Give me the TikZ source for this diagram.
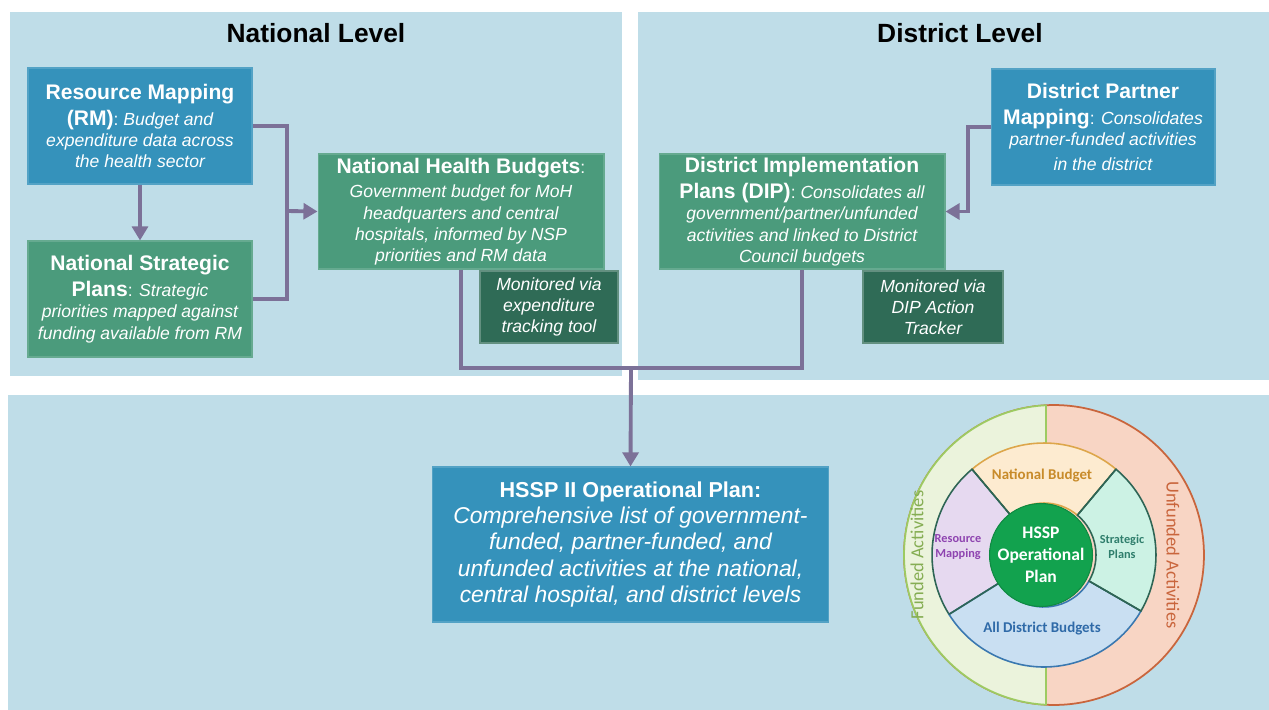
\documentclass[tikz,border=0pt]{standalone}
\usepackage{fontspec}
\setmainfont{Liberation Sans}
\newfontfamily\circfont{Carlito}
\usetikzlibrary{arrows.meta}

\definecolor{panel}{HTML}{BFDDE8}
\definecolor{boxblue}{HTML}{3592BB}
\definecolor{boxgreen}{HTML}{4B9B7C}
\definecolor{boxdark}{HTML}{2F6B56}
\definecolor{linkc}{HTML}{7C7198}
\definecolor{fundfill}{HTML}{EBF3DC}
\definecolor{fundline}{HTML}{9DCB62}
\definecolor{unfill}{HTML}{F8D5C4}
\definecolor{unline}{HTML}{C9653C}
\definecolor{topfill}{HTML}{FDEBD0}
\definecolor{topline}{HTML}{DDA64A}
\definecolor{toptext}{HTML}{C88B2A}
\definecolor{leftfill}{HTML}{E6D9F0}
\definecolor{lefttext}{HTML}{8E44B0}
\definecolor{rightfill}{HTML}{CCF2E4}
\definecolor{righttext}{HTML}{2F7E6C}
\definecolor{botfill}{HTML}{C9DFF2}
\definecolor{botline}{HTML}{3A78B0}
\definecolor{bottext}{HTML}{2F6AA8}
\definecolor{sepline}{HTML}{2E6555}
\definecolor{coregreen}{HTML}{12A24E}

\newcommand{\hd}[1]{{\fontsize{12}{12}\selectfont\bfseries\upshape #1}}

\tikzset{
    title/.style={font=\fontsize{15}{18}\selectfont\bfseries, text=black},
    box/.style={text=white, align=center, inner sep=0pt, line width=0.6pt,
        font=\fontsize{10}{12}\selectfont\itshape},
    bluebox/.style={box, fill=boxblue, draw=boxblue!85!white},
    greenbox/.style={box, fill=boxgreen, draw=boxgreen!85!white},
    darkbox/.style={box, fill=boxdark, draw=boxdark!75!white},
    link/.style={draw=linkc, line width=2.2pt},
    arr/.style={link, -{Triangle[length=8pt,width=9pt]}},
    seg/.style={font=\circfont\bfseries\fontsize{7}{8.5}\selectfont, align=center},
    ringtext/.style={font=\circfont\fontsize{10.5}{12}\selectfont},
}

\begin{document}
\begin{tikzpicture}[x=0.02cm, y=-0.02cm]
    \useasboundingbox[fill=white] (0,0) rectangle (1269,710);

    % ~~~~ Panels ~~~~ %
    \fill[panel] (10,12) rectangle (622,376);
    \fill[panel] (638,12) rectangle (1269,380);
    \fill[panel] (8,395) rectangle (1269,710);
    \node[title] (natl) at (316,33) {National Level};
    \node[title] (dist) at (960,33) {District Level};

    % ~~~~ National level ~~~~ %
    \node[bluebox, minimum width=4.48cm, minimum height=2.32cm] (rm) at (140,126)
        {\hd{Resource Mapping}\\[3pt]\hd{(RM)}{\upshape:} Budget and\\
         expenditure data across\\ the health sector};
    \node[greenbox, minimum width=4.48cm, minimum height=2.32cm] (nsp) at (140,299)
        {\hd{National Strategic}\\[3pt]\hd{Plans}{\upshape:} Strategic\\
         priorities mapped against\\ funding available from RM};
    \node[greenbox, minimum width=5.72cm, minimum height=2.3cm] (nhb) at (461,211.5)
        {\hd{National Health Budgets}{\upshape:}\\[2pt]Government budget for MoH\\
         headquarters and central\\ hospitals, informed by NSP\\ priorities and RM data};
    \node[darkbox, minimum width=2.76cm, minimum height=1.44cm] (ett) at (549,307)
        {Monitored via\\ expenditure\\ tracking tool};

    % ~~~~ District level ~~~~ %
    \node[bluebox, minimum width=4.48cm, minimum height=2.32cm] (dpm) at (1103,127)
        {\hd{District Partner}\\[3pt]\hd{Mapping}{\upshape:} Consolidates\\
         partner-funded activities\\[2pt] in the district};
    \node[greenbox, minimum width=5.72cm, minimum height=2.3cm] (dip) at (802,211.5)
        {\hd{District Implementation}\\[3pt]\hd{Plans (DIP)}{\upshape:} Consolidates all\\
         government/partner/unfunded\\ activities and linked to District\\ Council budgets};
    \node[darkbox, minimum width=2.8cm, minimum height=1.44cm] (dat) at (933,307)
        {Monitored via\\ DIP Action\\ Tracker};

    % ~~~~ Operational plan ~~~~ %
    \node[bluebox, minimum width=7.94cm, minimum height=3.1cm,
          font=\fontsize{13}{15}\selectfont\itshape] (hssp) at (630.5,544.5)
        {{\fontsize{12.3}{15}\selectfont\bfseries\upshape HSSP II Operational Plan:}\\
         Comprehensive list of government-\\ funded, partner-funded, and\\
         unfunded activities at the national,\\ central hospital, and district levels};

    % ~~~~ Connectors ~~~~ %
    \coordinate (nj) at (287,211);
    \draw[link] (rm.east) -| (nj) |- (nsp.east);
    \draw[arr] (nj) -- (nhb.west);
    \draw[arr] (rm.south) -- (nsp.north);
    \coordinate (dj) at (968,170);
    \draw[arr] (dpm.west) -| (dj) |- (dip.east);
    \coordinate (mj) at (631,368);
    \draw[link] (nhb.south) |- (mj) -| (dip.south);
    \draw[arr] (mj) -- (hssp.north);

    % ~~~~ Funding circle ~~~~ %
    \begin{scope}[shift={(1044,555)}, x=0.02cm, y=0.02cm]
        \filldraw[fill=unfill, draw=unline, line width=1pt] (10,0) circle (3cm);
        \begin{scope}
            \clip (-160,-160) rectangle (2,160);
            \filldraw[fill=fundfill, draw=fundline, line width=1pt] (10,0) circle (3cm);
        \end{scope}
        \draw[fundline, line width=1pt] (2,-149.8) -- (2,149.8);

        \foreach \a/\b/\f/\l in {50/130/topfill/topline, 130/212/leftfill/sepline,
                                 212/330/botfill/botline, 330/410/rightfill/sepline}
            \filldraw[fill=\f, draw=\l, line width=0.9pt]
                (\a:1.04cm) arc[start angle=\a, end angle=\b, radius=1.04cm]
                -- (\b:2.24cm) arc[start angle=\b, end angle=\a, radius=2.24cm] -- cycle;
        \foreach \a in {50,130,212,330}
            \draw[sepline, line width=0.9pt] (\a:1.04cm) -- (\a:2.24cm);

        \node[circle, fill=coregreen, draw=coregreen!85!black, line width=0.6pt,
              minimum size=2.06cm, inner sep=0pt, text=white, align=center,
              font=\circfont\bfseries\fontsize{10}{12.5}\selectfont] (core) at (-3,0)
            {HSSP\\ Operational\\ Plan};
        \node[seg, text=toptext, font=\circfont\bfseries\fontsize{8.5}{10}\selectfont] (nb) at (-2,79) {National Budget};
        \node[seg, text=lefttext] (rmap) at (-86,8) {Resource\\ Mapping};
        \node[seg, text=righttext] (sp) at (78,8) {Strategic\\ Plans};
        \node[seg, text=bottext, font=\circfont\bfseries\fontsize{8.5}{10}\selectfont] (adb) at (-2,-74) {All District Budgets};
        \node[ringtext, text=fundline!85!black, rotate=90] (fa) at (-127,0) {Funded Activities};
        \node[ringtext, text=unline, rotate=-90] (ua) at (129,0) {Unfunded Activities};
    \end{scope}
\end{tikzpicture}
\end{document}
